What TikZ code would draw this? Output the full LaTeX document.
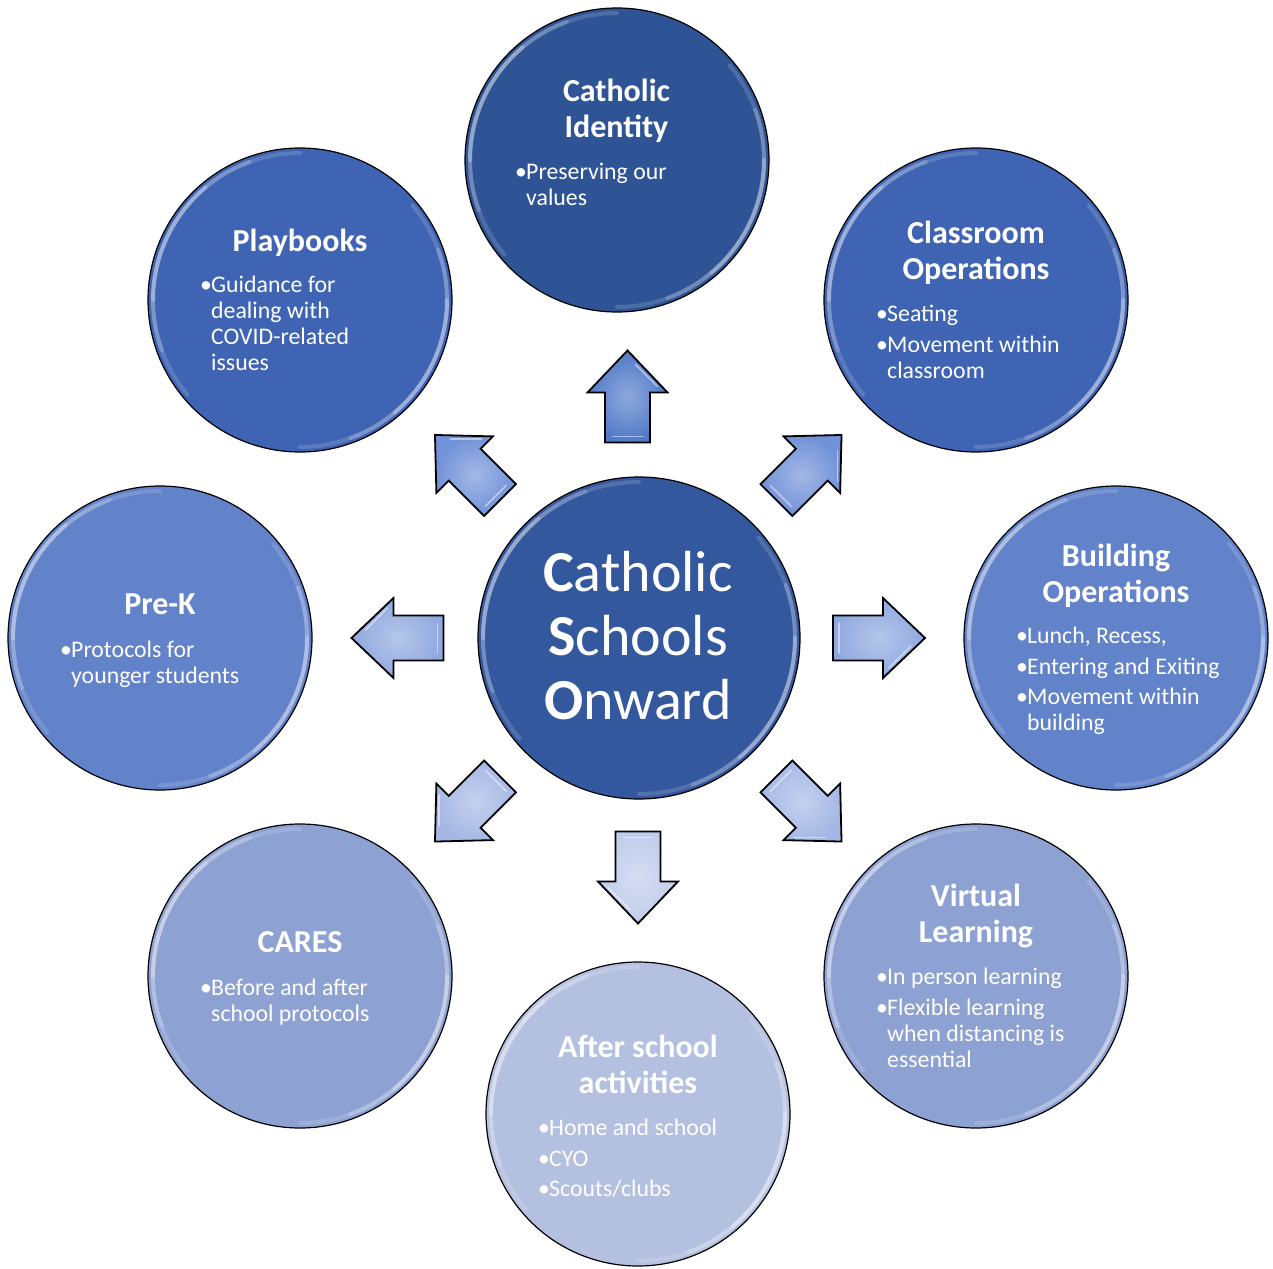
\documentclass[tikz,border=0pt]{standalone}
\usepackage{fontspec}
\setmainfont{Carlito}
\definecolor{cCenter}{HTML}{34589E}
\definecolor{cCI}{HTML}{2F5496}
\definecolor{cDark}{HTML}{3F64B4}
\definecolor{cMid}{HTML}{6282CA}
\definecolor{cLight}{HTML}{8EA1D3}
\definecolor{cPale}{HTML}{B4C0E0}
\definecolor{aUp}{HTML}{5179C8}
\definecolor{aDiagUp}{HTML}{7191D8}
\definecolor{aSide}{HTML}{8FA8DF}
\definecolor{aDiagDn}{HTML}{A5B8E5}
\definecolor{aDown}{HTML}{C0CCEB}
\newcommand\ttl[1]{\parbox[t]{300pt}{\centering\fontsize{32}{36}\selectfont\bfseries #1}}
\newcommand\bodytxt[1]{\parbox[t]{280pt}{\raggedright\setlength\parskip{4.5pt}\fontsize{23.8}{26}\selectfont #1}}
\newcommand\itm[1]{\par\hangindent=11pt\hangafter=1\noindent\makebox[11pt][l]{•}#1}
\tikzset{
  bubble/.style={circle, draw=black, line width=1.2pt, inner sep=0pt},
  gloss/.style={white, line width=4pt, line cap=round},
  txt/.style={text=white, inner sep=0pt, anchor=base},
  btxt/.style={text=white, inner sep=0pt, anchor=base west},
  blockarrow/.style={draw=black, line width=1.8pt, line join=miter},
}
\newcommand\barrow[4]{% x, y, rotation, colour
  \begin{scope}[shift={(#1,#2)}, rotate=#3]
    \path[blockarrow, inner color=#4!65!white, outer color=#4]
      (46,0) -- (4,40) -- (4,22.5) -- (-46,22.5) -- (-46,-22.5) -- (4,-22.5) -- (4,-40) -- cycle;
    \draw[white, opacity=0.5, line width=1.5pt, line cap=round] (-40,-15) -- (-40,15);
    \draw[white, opacity=0.5, line width=1.5pt, line cap=round] (10,30) -- (32,8);
  \end{scope}}
\begin{document}
\begin{tikzpicture}[x=1pt, y=-1pt]
\useasboundingbox (0,0) rectangle (1273,1268);
% circles
\foreach \n/\x/\y/\r/\c in {
  cen/639/638/161/cCenter,
  ci/617/160/152/cCI,
  co/976/300/152/cDark,
  pb/300/300/152/cDark,
  bo/1116/638/152/cMid,
  pk/160/638/152/cMid,
  vl/976/976/152/cLight,
  ca/300/976/152/cLight,
  as/638/1114/152/cPale}{
  \node[bubble, fill=\c, minimum size={2*\r}] (\n) at (\x,\y) {};
  \foreach \op/\a/\b in {0.15/90/220, 0.2/110/200, 0.25/130/180, 0.15/-90/40, 0.2/-70/20, 0.25/-50/0}{
    \draw[gloss, opacity=\op] (\x,\y) ++(-\a:\r-5) arc[start angle=-\a, end angle=-\b, radius=\r-5];
  }
}
% block arrows
\barrow{627.5}{396.5}{90}{aUp}
\barrow{809}{467.5}{45}{aDiagUp}
\barrow{467.5}{467.5}{135}{aDiagUp}
\barrow{879}{638}{0}{aSide}
\barrow{397.5}{638}{180}{aSide}
\barrow{809}{809}{-45}{aDiagDn}
\barrow{467.5}{809}{-135}{aDiagDn}
\barrow{638}{877.5}{-90}{aDown}
% centre text
\node[txt] (centxt) at (638,591.5) {\parbox[t]{320pt}{\centering\fontsize{58}{64}\selectfont\textbf{C}atholic\\\textbf{S}chools\\\textbf{O}nward}};
% titles
\node[txt] (cit) at (616.5,102) {\ttl{Catholic\\Identity}};
\node[txt] (pbt) at (300,251) {\ttl{Playbooks}};
\node[txt] (cot) at (976,243) {\ttl{Classroom\\Operations}};
\node[txt] (pkt) at (160,614) {\ttl{Pre-K}};
\node[txt] (bot) at (1116,566) {\ttl{Building\\Operations}};
\node[txt] (cat) at (300,952) {\ttl{CARES}};
\node[txt] (vlt) at (976,906) {\ttl{Virtual\\Learning}};
\node[txt] (ast) at (638,1057) {\ttl{After school\\activities}};
% bullet lists
\node[btxt] (cib) at (515,179.5) {\bodytxt{\itm{Preserving our\newline values}}};
\node[btxt] (pbb) at (200,292.5) {\bodytxt{\itm{Guidance for\newline dealing with\newline COVID-related\newline issues}}};
\node[btxt] (cob) at (876,321.5) {\bodytxt{\itm{Seating}\itm{Movement within\newline classroom}}};
\node[btxt] (pkb) at (60,657.5) {\bodytxt{\itm{Protocols for\newline younger students}}};
\node[btxt] (bob) at (1016,643.5) {\bodytxt{\itm{Lunch, Recess,}\itm{Entering and Exiting}\itm{Movement within\newline building}}};
\node[btxt] (cab) at (200,995.5) {\bodytxt{\itm{Before and after\newline school protocols}}};
\node[btxt] (vlb) at (876,984.5) {\bodytxt{\itm{In person learning}\itm{Flexible learning\newline when distancing is\newline essential}}};
\node[btxt] (asb) at (538,1135.5) {\bodytxt{\itm{Home and school}\itm{CYO}\itm{Scouts/clubs}}};
\end{tikzpicture}
\end{document}
